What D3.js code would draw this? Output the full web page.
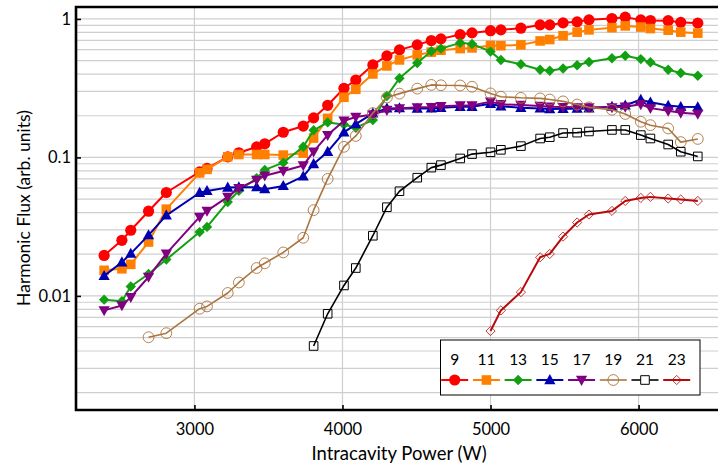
<!DOCTYPE html>
<html>
<head>
<meta charset="utf-8">
<script src="https://cdn.jsdelivr.net/npm/d3@7"></script>
<style>
  html, body { margin: 0; padding: 0; background: #fff; }
  svg { display: block; font-family: Lato, "Open Sans", sans-serif; }
</style>
</head>
<body>
<svg id="chart" width="718" height="469"></svg>
<script>
// Intracavity power settings (W) shared by all harmonic scans
const power = [2390, 2510, 2570, 2690, 2810, 3035, 3085, 3225, 3300, 3420, 3475, 3600, 3735, 3805,
  3900, 4010, 4090, 4205, 4300, 4385, 4505, 4600, 4665, 4795, 4875, 5000, 5070, 5205, 5335, 5400,
  5490, 5585, 5665, 5820, 5910, 6015, 6080, 6200, 6285, 6400];

// Harmonic flux (arb. units); shorter scans start later and line up with the end of `power`
const h9 = [0.0196, 0.0252, 0.0298, 0.0409, 0.0558, 0.0787, 0.0833, 0.101, 0.108, 0.119, 0.1254,
  0.152, 0.1685, 0.193, 0.238, 0.316, 0.3625, 0.466, 0.541, 0.598, 0.65, 0.698, 0.718, 0.771, 0.793,
  0.823, 0.834, 0.858, 0.906, 0.906, 0.937, 0.953, 0.985, 1.007, 1.03, 0.985, 0.974, 0.972, 0.945, 0.933];
const h11 = [0.0153, 0.0157, 0.0169, 0.0245, 0.0423, 0.0774, 0.082, 0.101, 0.105, 0.105, 0.105,
  0.104, 0.1074, 0.138, 0.1915, 0.272, 0.3105, 0.4006, 0.458, 0.506, 0.55, 0.576, 0.595, 0.611, 0.618,
  0.644, 0.641, 0.65, 0.694, 0.71, 0.757, 0.803, 0.834, 0.865, 0.891, 0.874, 0.852, 0.83, 0.803, 0.79];
const h13 = [0.0094, 0.00915, 0.0117, 0.0144, 0.0183, 0.0289, 0.0315, 0.0477, 0.0575, 0.0708, 0.0813,
  0.0917, 0.1193, 0.157, 0.179, 0.173, 0.164, 0.186, 0.278, 0.373, 0.481, 0.585, 0.611, 0.672, 0.66,
  0.581, 0.506, 0.471, 0.43, 0.423, 0.439, 0.463, 0.489, 0.52, 0.543, 0.513, 0.487, 0.43, 0.407, 0.389];
const h15 = [0.01395, 0.0175, 0.0202, 0.0275, 0.0382, 0.0556, 0.0573, 0.0607, 0.061, 0.061, 0.059,
  0.0623, 0.073, 0.0897, 0.11, 0.1517, 0.174, 0.208, 0.226, 0.227, 0.2255, 0.226, 0.228, 0.232, 0.232,
  0.244, 0.234, 0.228, 0.226, 0.224, 0.2246, 0.225, 0.226, 0.233, 0.238, 0.261, 0.25, 0.237, 0.232, 0.231];
const h17 = [0.00786, 0.00853, 0.0098, 0.0137, 0.0202, 0.0372, 0.0411, 0.0519, 0.06, 0.0689, 0.0738,
  0.0799, 0.0875, 0.11, 0.145, 0.184, 0.196, 0.204, 0.22, 0.226, 0.23, 0.231, 0.234, 0.237, 0.237,
  0.253, 0.242, 0.239, 0.235, 0.232, 0.231, 0.23, 0.23, 0.23, 0.232, 0.242, 0.227, 0.217, 0.21, 0.206];
const h19 = [0.00503, 0.00538, 0.00808, 0.0084, 0.0105, 0.0125, 0.0159, 0.0172, 0.0206, 0.0263,
  0.0416, 0.07, 0.1193, 0.143, 0.209, 0.271, 0.289, 0.314, 0.334, 0.332, 0.331, 0.324, 0.29, 0.2745,
  0.2695, 0.267, 0.262, 0.254, 0.241, 0.23, 0.221, 0.206, 0.181, 0.171, 0.162, 0.129, 0.136];
const h21 = [0.00435, 0.00743, 0.0119, 0.0159, 0.0272, 0.0437, 0.057, 0.0714, 0.0844, 0.088, 0.0983,
  0.1057, 0.109, 0.1135, 0.1207, 0.137, 0.14, 0.15, 0.151, 0.154, 0.158, 0.158, 0.145, 0.137, 0.124,
  0.11, 0.1017];
const h23 = [0.00558, 0.00786, 0.01065, 0.019, 0.0201, 0.0268, 0.0339, 0.0387, 0.0411, 0.0485, 0.051,
  0.0519, 0.0505, 0.0497, 0.0485];

const harmonics = ["9", "11", "13", "15", "17", "19", "21", "23"];
const fluxes = [h9, h11, h13, h15, h17, h19, h21, h23];

const xTicks = [3000, 4000, 5000, 6000];
const yTicks = [0.01, 0.1, 1];
const yTickLabels = ["0.01", "0.1", "1"];

// Per-harmonic look: colour, marker, filled or open, line width
const styles = [
  { color: "#ff0000", shape: "circle", r: 5.6, fill: true, lw: 2 },
  { color: "#ff8000", shape: "square", r: 4.8, fill: true, lw: 2 },
  { color: "#12a012", shape: "diamond", r: 5.2, fill: true, lw: 2 },
  { color: "#0000b0", shape: "triUp", r: 5.6, fill: true, lw: 2 },
  { color: "#800080", shape: "triDown", r: 5.6, fill: true, lw: 2 },
  { color: "#ab7540", shape: "circle", r: 5.4, fill: false, lw: 1.6, sw: 0.9 },
  { color: "#000000", shape: "square", r: 4.3, fill: false, lw: 1.6, sw: 1 },
  { color: "#b80a0a", shape: "diamond", r: 4.6, fill: false, lw: 2, sw: 0.8 }
];

const svg = d3.select("#chart");
const plotLeft = 76, plotTop = 7, plotBottom = 410, plotRight = 720;

const x = d3.scaleLinear().domain([2200, 6550]).range([plotLeft, plotRight]);
const y = d3.scaleLog().domain([0.0015, 1.22]).range([plotBottom, plotTop]);

// Grid: minor decades horizontally, thousands of watts vertically
const gridVals = [];
for (let e = -3; e <= 0; e++) {
  for (let m = 1; m <= 9; m++) {
    const v = m * Math.pow(10, e);
    if (v >= 0.0015 && v <= 1.22) gridVals.push(v);
  }
}
const grid = svg.append("g").attr("stroke", "#cfcfcf").attr("stroke-width", 1.2);
grid.selectAll("line.h").data(gridVals).join("line")
  .attr("x1", plotLeft).attr("x2", plotRight)
  .attr("y1", d => y(d)).attr("y2", d => y(d));
grid.selectAll("line.v").data(xTicks).join("line")
  .attr("y1", plotTop).attr("y2", plotBottom)
  .attr("x1", d => x(d)).attr("x2", d => x(d));

// Axes (ticks point inward)
const xAxis = d3.axisBottom(x).tickValues(xTicks).tickFormat(d3.format("d"))
  .tickSizeInner(-5).tickSizeOuter(0).tickPadding(13);
const yAxis = d3.axisLeft(y).tickValues(yTicks).tickFormat((d, i) => yTickLabels[i])
  .tickSizeInner(-5).tickSizeOuter(0).tickPadding(5);

const gx = svg.append("g").attr("transform", `translate(0,${plotBottom})`).call(xAxis);
const gy = svg.append("g").attr("transform", `translate(${plotLeft},0)`).call(yAxis);
[gx, gy].forEach(g => {
  g.select(".domain").remove();
  g.selectAll(".tick line").attr("stroke", "#000").attr("stroke-width", 1.6);
  g.selectAll(".tick text").attr("fill", "#000").style("font-size", "16.5px")
    .style("font-family", "Lato, 'Open Sans', sans-serif");
});

// Marker paths
function markerPath(shape, r) {
  switch (shape) {
    case "circle": return `M${r},0A${r},${r} 0 1,1 ${-r},0A${r},${r} 0 1,1 ${r},0Z`;
    case "square": return `M${-r},${-r}H${r}V${r}H${-r}Z`;
    case "diamond": return `M0,${-r}L${r},0L0,${r}L${-r},0Z`;
    case "triUp": return `M0,${-r * 1.05}L${r},${r * 0.75}L${-r},${r * 0.75}Z`;
    case "triDown": return `M0,${r * 1.05}L${r},${-r * 0.75}L${-r},${-r * 0.75}Z`;
  }
}

const line = d3.line().x(d => x(d[0])).y(d => y(d[1])).curve(d3.curveLinear);

const plot = svg.append("g");
fluxes.forEach((vals, i) => {
  const st = styles[i];
  const pts = power.slice(power.length - vals.length).map((p, j) => [p, vals[j]]);
  const g = plot.append("g");
  g.append("path").datum(pts).attr("d", line)
    .attr("fill", "none").attr("stroke", st.color).attr("stroke-width", st.lw)
    .attr("stroke-linejoin", "round");
  g.selectAll("path.m").data(pts).join("path").attr("class", "m")
    .attr("transform", d => `translate(${x(d[0])},${y(d[1])})`)
    .attr("d", markerPath(st.shape, st.r))
    .attr("fill", st.fill ? st.color : "none")
    .attr("stroke", st.fill ? "none" : st.color)
    .attr("stroke-width", st.sw || 1);
});

// Plot frame (open on the right)
svg.append("path")
  .attr("d", `M${plotRight + 10},${plotTop}H${plotLeft}V${plotBottom}H${plotRight + 10}`)
  .attr("fill", "none").attr("stroke", "#000").attr("stroke-width", 2.6);

// Legend
const lg = svg.append("g");
lg.append("rect").attr("x", 440.5).attr("y", 340).attr("width", 259.5).attr("height", 55)
  .attr("fill", "#fff").attr("stroke", "#000").attr("stroke-width", 1);
const lx = d3.scalePoint().domain(harmonics).range([454.7, 676.7]);
harmonics.forEach((h, i) => {
  const st = styles[i];
  const cx = lx(h);
  lg.append("text").attr("x", cx).attr("y", 364.5).attr("text-anchor", "middle")
    .style("font-size", "15.5px").attr("fill", "#000").text(h);
  lg.append("line").attr("x1", cx - 13.5).attr("x2", cx + 13.5).attr("y1", 380).attr("y2", 380)
    .attr("stroke", st.color).attr("stroke-width", st.lw);
  lg.append("path").attr("transform", `translate(${cx},380)`)
    .attr("d", markerPath(st.shape, st.r))
    .attr("fill", st.fill ? st.color : (i === 6 ? "#fff" : "none"))
    .attr("stroke", st.fill ? "none" : st.color)
    .attr("stroke-width", st.sw || 1);
});

// Axis titles
svg.append("text").attr("x", 399).attr("y", 460).attr("text-anchor", "middle")
  .style("font-size", "18.5px").attr("fill", "#000").text("Intracavity Power (W)");
svg.append("text").attr("transform", "translate(30,208) rotate(-90)").attr("text-anchor", "middle")
  .style("font-size", "17.5px").attr("fill", "#000").text("Harmonic Flux (arb. units)");
</script>
</body>
</html>
